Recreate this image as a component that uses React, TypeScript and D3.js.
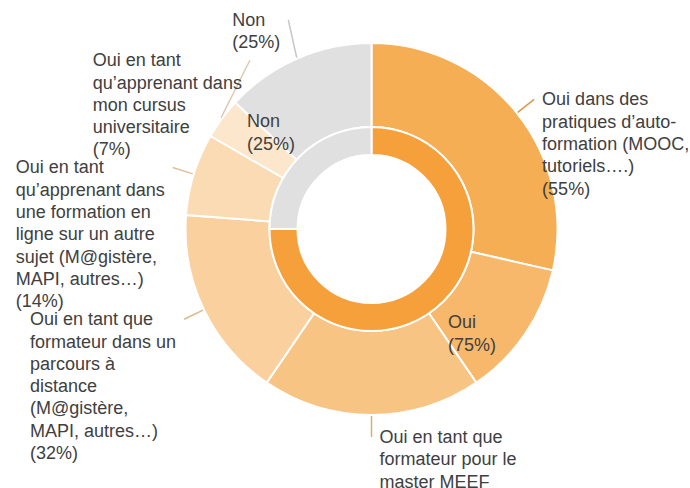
import React, { useMemo } from 'react';
import * as d3 from 'd3';

// ---- data ----
const RESPONDENTS = 44;
const innerLabels = ['Oui', 'Non'];
const innerValues = [33, 11];
const innerColors = ['#F5A03A', '#E0E0E0'];

const outerLabels = [
  'Oui dans des pratiques d’auto-formation (MOOC, tutoriels….)',
  '',
  'Oui en tant que formateur pour le master MEEF',
  'Oui en tant que formateur dans un parcours à distance (M@gistère, MAPI, autres…)',
  'Oui en tant qu’apprenant dans une formation en ligne sur un autre sujet (M@gistère, MAPI, autres…)',
  'Oui en tant qu’apprenant dans mon cursus universitaire',
  'Non',
];
const outerValues = [24, 10, 16, 14, 6, 3, 11];
const outerColors = ['#F5AE54', '#F7B86C', '#F8C484', '#F9D09E', '#FADBB4', '#FCE6CC', '#E0E0E0'];

// ---- layout ----
const W = 690;
const H = 488;
const CX = 371.5;
const CY = 229;
const R0 = 74;
const R1 = 102;
const R2 = 186;
const LABEL_R = 208;
const INNER_LABEL_R = 142;
const FONT_SIZE = 18;
const LINE_H = 22.3;
const WRAP_W = 152;
const FONT = "'Liberation Sans', Arial, sans-serif";
const TEXT_COLOR = '#404040';

function makeMeasure() {
  const c = document.createElement('canvas');
  const ctx = c.getContext('2d')!;
  ctx.font = `${FONT_SIZE}px 'Liberation Sans', Arial, sans-serif`;
  return (s: string) => ctx.measureText(s).width;
}

function wrap(text: string, maxW: number, measure: (s: string) => number) {
  const tokens: { t: string; sp: boolean }[] = [];
  text.split(' ').forEach((w, i) => {
    const parts = w.split(/(?<=-)/);
    parts.forEach((p, j) => tokens.push({ t: p, sp: i > 0 && j === 0 }));
  });
  const lines: string[] = [];
  let cur = '';
  for (const tok of tokens) {
    const cand = cur === '' ? tok.t : cur + (tok.sp ? ' ' : '') + tok.t;
    if (cur !== '' && measure(cand) > maxW) {
      lines.push(cur);
      cur = tok.t;
    } else cur = cand;
  }
  if (cur) lines.push(cur);
  return lines;
}

const pt = (a: number, r: number) => [CX + r * Math.sin(a), CY - r * Math.cos(a)];

export default function App() {
  const layout = useMemo(() => {
    const measure = makeMeasure();
    const pie = d3.pie<number>().sort(null).value((d) => d);
    const innerArcs = pie(innerValues);
    const outerArcs = pie(outerValues);
    const innerArc = d3.arc<d3.PieArcDatum<number>>().innerRadius(R0).outerRadius(R1);
    const outerArc = d3.arc<d3.PieArcDatum<number>>().innerRadius(R1).outerRadius(R2);
    const pct = (v: number) => `(${Math.round((v / RESPONDENTS) * 100)}%)`;

    type L = {
      i: number; lines: string[]; w: number; mid: number; right: boolean;
      ex: number; ey: number;
    };
    const labels: L[] = [];
    outerArcs.forEach((a, i) => {
      if (!outerLabels[i]) return;
      const mid = (a.startAngle + a.endAngle) / 2;
      const lines = [...wrap(outerLabels[i], WRAP_W, measure), pct(a.value)];
      const w = d3.max(lines, (l) => measure(l)) || 0;
      const [ex, ey] = pt(mid, LABEL_R);
      labels.push({ i, lines, w, mid, right: mid <= Math.PI + 1e-6, ex, ey });
    });

    const half = 9;
    // left side: bottom to top, push up
    const left = labels.filter((l) => !l.right).sort((a, b) => b.ey - a.ey);
    for (let k = 1; k < left.length; k++) {
      const prev = left[k - 1];
      const l = left[k];
      const limit = prev.ey - half;
      const bottom = l.ey + (l.lines.length - 1) * LINE_H + half;
      if (bottom > limit) {
        l.ey -= bottom - limit;
        const dy = l.ey - CY;
        let dx = Math.sqrt(Math.max(0, LABEL_R * LABEL_R - dy * dy));
        dx = Math.max(dx, 0.4 * LABEL_R);
        l.ex = CX - dx;
      }
    }
    // right side: top to bottom, push down
    const right = labels.filter((l) => l.right).sort((a, b) => a.ey - b.ey);
    for (let k = 1; k < right.length; k++) {
      const prev = right[k - 1];
      const l = right[k];
      const limit = prev.ey + (prev.lines.length - 1) * LINE_H + half;
      if (l.ey - half < limit) {
        l.ey = limit + half;
        const dy = l.ey - CY;
        let dx = Math.sqrt(Math.max(0, LABEL_R * LABEL_R - dy * dy));
        dx = Math.max(dx, 0.4 * LABEL_R);
        l.ex = CX + dx;
      }
    }

    const innerText = innerArcs.map((a, i) => {
      const mid = (a.startAngle + a.endAngle) / 2;
      const [px, py] = pt(mid, INNER_LABEL_R);
      const lines = [innerLabels[i], pct(a.value)];
      const w = d3.max(lines, (l) => measure(l)) || 0;
      return { lines, x: px - w / 2, y: py };
    });

    return { innerArcs, outerArcs, innerArc, outerArc, labels, innerText };
  }, []);

  const { innerArcs, outerArcs, innerArc, outerArc, labels, innerText } = layout;

  return (
    <svg width={W} height={H} style={{ position: 'absolute', left: 0, top: 0, background: '#fff' }}
      fontFamily={FONT} fontSize={FONT_SIZE}>
      <g transform={`translate(${CX},${CY})`}>
        {outerArcs.map((a, i) => (
          <path key={'o' + i} d={outerArc(a) || ''} fill={outerColors[i]} stroke="#fff" strokeWidth={2} />
        ))}
        {innerArcs.map((a, i) => (
          <path key={'in' + i} d={innerArc(a) || ''} fill={innerColors[i]} stroke="#fff" strokeWidth={2} />
        ))}
      </g>
      {labels.map((l) => {
        const [sx, sy] = pt(l.mid, R2 + 1);
        const col = d3.color(outerColors[l.i])!.darker(0.35).formatHex();
        const tx = l.right ? l.ex + 8 : l.ex - 8 - l.w;
        return (
          <g key={'l' + l.i}>
            <line x1={sx} y1={sy} x2={l.ex} y2={l.ey} stroke={col} strokeWidth={1.5} />
            <text fill={TEXT_COLOR}>
              {l.lines.map((s, k) => (
                <tspan key={k} x={tx} y={l.ey + k * LINE_H + 6}>{s}</tspan>
              ))}
            </text>
          </g>
        );
      })}
      {innerText.map((t, i) => (
        <text key={'it' + i} fill={TEXT_COLOR}>
          {t.lines.map((s, k) => (
            <tspan key={k} x={t.x} y={t.y + (k - (t.lines.length - 1) / 2) * LINE_H + 10}>{s}</tspan>
          ))}
        </text>
      ))}
    </svg>
  );
}
